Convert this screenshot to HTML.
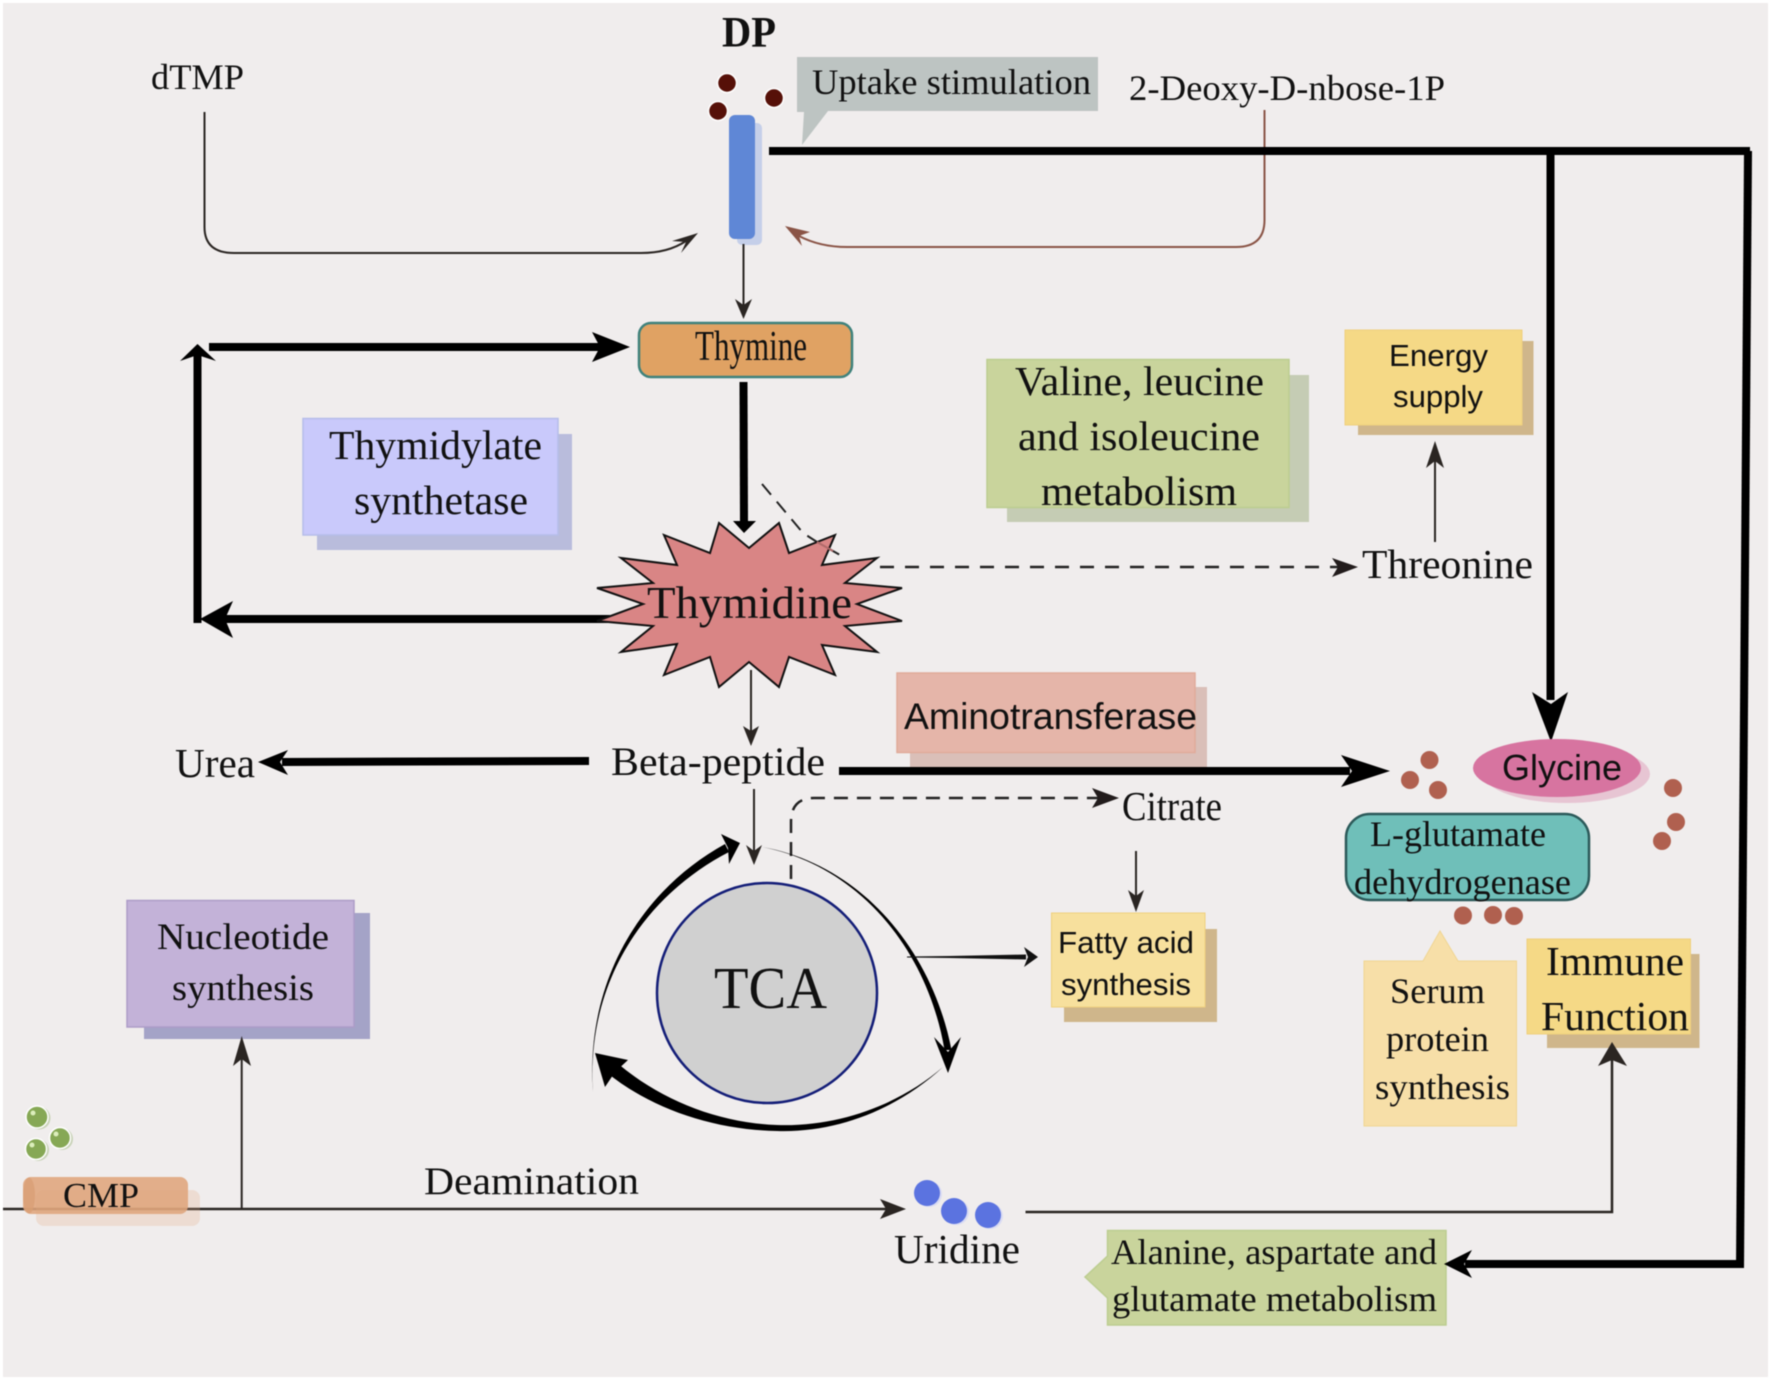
<!DOCTYPE html>
<html><head><meta charset="utf-8"><style>
html,body{margin:0;padding:0;background:#fff}
svg{display:block;filter:blur(.4px)}
text{font-family:"Liberation Serif",serif;fill:#111}
.s{font-family:"Liberation Sans",sans-serif}
</style></head><body>
<svg width="1772" height="1379" viewBox="0 0 1772 1379" xmlns="http://www.w3.org/2000/svg">
<rect width="1772" height="1379" fill="#fff"/>
<rect x="3" y="3" width="1765" height="1374" fill="#f0eded"/>

<!-- shadows + boxes -->
<rect x="317" y="434" width="255" height="116" fill="#b9bcdc"/>
<rect x="303" y="418.500" width="255" height="116.500" fill="#c9c9fb" stroke="#b5bde9" stroke-width="1.500"/>
<rect x="1007" y="375" width="302" height="147" fill="#c5ccb4"/>
<rect x="987" y="359.500" width="302" height="148" fill="#c9d49c" stroke="#bccd90" stroke-width="1.500"/>
<rect x="1358" y="341" width="175.500" height="94" fill="#cfb68b"/>
<rect x="1345" y="330" width="177" height="95" fill="#f5d986" stroke="#efd07e"/>
<rect x="910" y="687" width="297" height="80" fill="#dabfb8"/>
<rect x="897" y="673" width="298" height="79.500" fill="#e5b5a9" stroke="#e0ab9a" stroke-width="1.500"/>
<rect x="1064" y="929" width="153" height="93" fill="#cfb68b"/>
<rect x="1051.500" y="913" width="153.500" height="94" fill="#f7e09d" stroke="#efd07e"/>
<rect x="144" y="913" width="226" height="126" fill="#a4a3c7"/>
<rect x="127" y="900.500" width="227" height="126.500" fill="#c3b2d8" stroke="#ad9cc8" stroke-width="1.500"/>
<rect x="1547" y="954" width="152.500" height="94" fill="#cfb68b"/>
<rect x="1527" y="939" width="163.500" height="95" fill="#f5d986" stroke="#efd07e"/>
<polygon points="1364,961 1423,961 1440,931 1458,961 1516.500,961 1516.500,1126 1364,1126" fill="#f7dfa8" stroke="#f0d592"/>
<polygon points="1107.500,1230.500 1446,1230.500 1446,1325 1107.500,1325 1107.500,1298 1085,1277 1107.500,1256" fill="#c9d49c" stroke="#bccd90" stroke-width="1.500"/>

<!-- uptake callout -->
<polygon points="797,57 1098,57 1098,111 828,111 802,145 804,112 797,112" fill="#bdc4c2"/>

<!-- channel -->
<rect x="737" y="123" width="25" height="122" rx="5" fill="#c5cfe9"/>
<rect x="729" y="115" width="26" height="124" rx="6" fill="#5f87d6"/>
<g fill="#561008" stroke="#fff" stroke-width="1.500">
<circle cx="727" cy="83" r="9.500"/><circle cx="774" cy="98" r="9.500"/><circle cx="718" cy="111" r="9.500"/>
</g>

<!-- thin curved connectors -->
<path d="M204.500,112 V227 Q204.500,253 234,253 H641 Q668,253 686,241" fill="none" stroke="#2a2522" stroke-width="2"/>
<polygon points="698,233 672,241 686,242 681,253" fill="#2a2522"/>
<path d="M1264.500,110 V220 Q1264.500,247 1236,247 H847 Q820,247 799,236" fill="none" stroke="#8a5446" stroke-width="2"/>
<polygon points="785,226 810,232 799,236 802,246" fill="#8a5446"/>

<!-- thick black lines -->
<g fill="none" stroke="#000" stroke-width="8">
<path d="M769,151 H1750"/>
<path d="M1748,151 L1740,1268"/>
<path d="M1744,1264 L1465,1264"/>
<path d="M1550.500,151 V700"/>
<path d="M209,347 H600"/>
<path d="M197.500,623 V355"/>
<path d="M743.500,382 L744,524"/>
<path d="M610,619 H225"/>
<path d="M839,771 H1350"/>
<path d="M589,761 L282,762"/>
</g>
<polygon points="1444,1264 1472,1250 1464,1264 1472,1278" fill="#000"/>
<polygon points="1551,742 1532,692 1551,704 1568,692" fill="#000"/>
<polygon points="630,347 592,332 600,347 592,362" fill="#000"/>
<polygon points="197.500,344 180,361 197.500,355 216,361" fill="#000"/>
<polygon points="200,619 233,601 225,619 233,638" fill="#000"/>
<polygon points="1390,771 1341,755 1352,771 1341,787" fill="#000"/>
<polygon points="258,762 288,750 280,762 288,775" fill="#000"/>

<!-- thymidine dashed -->
<path d="M762,484 L803,533 L817,542 L847,559" fill="none" stroke="#222" stroke-width="2" stroke-dasharray="14,9"/>
<path d="M880,567 H1338" fill="none" stroke="#222" stroke-width="2.500" stroke-dasharray="14,11"/>
<polygon points="1358,567 1332,558 1338,567 1332,577" fill="#221c1c"/>

<!-- star -->
<polygon points="749,548 779,523 789,553 835,535 822,565 877,558 845,583 902,588 857,604 902,621 845,626 877,652 822,645 835,675 789,657 779,687 749,662 719,687 710,657 664,675 677,644 621,652 653,626 597,621 643,604 597,588 653,583 621,558 677,565 664,535 710,553 719,523" fill="#d98585" stroke="#111" stroke-width="2"/>
<path d="M817,542 L833,551" stroke="#b06a6a" stroke-width="2"/>
<polygon points="744,533 733,521 756,521" fill="#000"/>

<!-- thin straight arrows -->
<g fill="none" stroke="#2a2522" stroke-width="2">
<path d="M743.500,244 V310"/>
<path d="M1435,542 V455"/>
<path d="M751,670 V735"/>
<path d="M754,789 V855"/>
<path d="M1136,851 V900"/>
</g>
<g fill="#2a2522">
<polygon points="743.500,319 735,299 743.500,305 752,299"/>
<polygon points="1435,441 1426,468 1435,461 1444,468"/>
<polygon points="751,746 743,726 751,731 759,726"/>
<polygon points="754,865 746,845 754,851 762,845"/>
<polygon points="1136,912 1128,890 1136,896 1144,890"/>
</g>

<!-- citrate dashed -->
<path d="M791,879 V822 Q791,798 814,798 H1098" fill="none" stroke="#222" stroke-width="2.500" stroke-dasharray="14,9"/>
<polygon points="1119,798 1092,788 1098,798 1092,808" fill="#221c1c"/>

<!-- TCA circle -->
<circle cx="767" cy="993" r="110" fill="#d0d0d0" stroke="#141e78" stroke-width="2.500"/>

<!-- cycle arrows -->
<path d="M593,1092 C585,985 638,892 725,844 L729,852 C642,897 586,985 593,1092 Z" fill="#000"/>
<polygon points="740,843 721,834 728,848 729,864" fill="#000"/>
<path d="M762,847 C860,864 932,949 951.500,1050 L944.500,1050 C928,951 860,866 762,847 Z" fill="#000"/>
<polygon points="948,1073 934,1037 948,1052 961,1037" fill="#000"/>
<path d="M943,1067 C900,1107 840,1133 777,1131 C712,1130 650,1108 606,1072 L615,1061 C658,1099 717,1123 777,1125 C840,1127 900,1104 943,1067 Z" fill="#000"/>
<polygon points="595,1053 628,1060 615,1072 605,1087" fill="#000"/>

<!-- TCA to fatty -->
<polygon points="907,956.500 950,956 1026,954.500 1026,959.500 950,958 907,957.500" fill="#111"/>
<polygon points="1038,957 1024,947 1028,957 1024,967" fill="#111"/>

<!-- main line -->
<path d="M3,1209 H895" fill="none" stroke="#2a2522" stroke-width="2.500"/>
<polygon points="906,1209 880,1199 886,1209 880,1219" fill="#2a2522"/>
<path d="M241.700,1209 V1055" fill="none" stroke="#2a2522" stroke-width="2"/>
<polygon points="241.700,1036 233,1066 241.700,1059 251,1066" fill="#2a2522"/>
<path d="M1025.500,1212 H1612 V1060" fill="none" stroke="#2a2522" stroke-width="2.500"/>
<polygon points="1612,1042 1598,1066 1612,1060 1627,1066" fill="#2a2522"/>

<!-- CMP -->
<rect x="36" y="1190" width="164" height="36" rx="8" fill="#e2aa82" opacity=".25"/>
<rect x="23" y="1177" width="165" height="37" rx="8" fill="#dfa57c" opacity=".88"/>
<ellipse cx="29" cy="1195.500" rx="6" ry="18" fill="#d99f75" opacity=".8"/>
<g fill="#c9d3b8"><circle cx="39" cy="1118" r="11.500"/><circle cx="62" cy="1139" r="11"/><circle cx="38" cy="1150" r="11"/></g>
<g fill="#86a855" stroke="#fff" stroke-width="1.500">
<circle cx="37" cy="1117" r="11"/><circle cx="60" cy="1138" r="10.500"/><circle cx="36" cy="1149" r="10.500"/>
</g>
<g fill="#dceebc"><circle cx="33" cy="1113" r="2.500"/><circle cx="56" cy="1134" r="2.500"/><circle cx="32" cy="1145" r="2.500"/></g>

<!-- uridine balls -->
<g fill="#dadcf3"><circle cx="929" cy="1194" r="13"/><circle cx="956" cy="1212" r="13"/><circle cx="990" cy="1216" r="13"/></g>
<g fill="#5b73e0">
<circle cx="927" cy="1193" r="13"/><circle cx="954" cy="1211" r="13"/><circle cx="988" cy="1215" r="13"/>
</g>

<!-- glycine -->
<ellipse cx="1567" cy="774" rx="83" ry="29" fill="#e7c5d3"/>
<ellipse cx="1557" cy="768" rx="84" ry="29" fill="#d774a0"/>
<g fill="#b0604f">
<circle cx="1429.500" cy="760" r="9"/><circle cx="1410" cy="780" r="9"/><circle cx="1438" cy="790" r="9"/>
<circle cx="1673" cy="788" r="9"/><circle cx="1676" cy="822" r="9"/><circle cx="1662" cy="841" r="9"/>
<circle cx="1463" cy="915.500" r="9"/><circle cx="1493" cy="915" r="9"/><circle cx="1514" cy="916" r="9"/>
</g>

<!-- L-glutamate -->
<rect x="1346" y="814" width="243" height="86" rx="24" fill="#6fbfb9" stroke="#2c5a5a" stroke-width="2.500"/>

<!-- thymine -->
<rect x="639" y="323" width="213" height="54" rx="12" fill="#e0a263" stroke="#3f827c" stroke-width="2.500"/>

<!-- text -->
<text x="722" y="46.500" font-size="43" font-weight="bold" textLength="54" lengthAdjust="spacingAndGlyphs">DP</text>
<text x="151" y="89" font-size="36" textLength="93" lengthAdjust="spacingAndGlyphs">dTMP</text>
<text x="812" y="94" font-size="36" textLength="279" lengthAdjust="spacingAndGlyphs">Uptake stimulation</text>
<text x="1129" y="100" font-size="36" textLength="316" lengthAdjust="spacingAndGlyphs">2-Deoxy-D-nbose-1P</text>
<text x="695" y="360" font-size="42" textLength="112" lengthAdjust="spacingAndGlyphs">Thymine</text>
<text x="329" y="459" font-size="41" textLength="213" lengthAdjust="spacingAndGlyphs">Thymidylate</text>
<text x="354" y="514" font-size="41" textLength="174" lengthAdjust="spacingAndGlyphs">synthetase</text>
<text x="647" y="618" font-size="46" textLength="205" lengthAdjust="spacingAndGlyphs">Thymidine</text>
<text x="1015" y="395" font-size="41" textLength="249" lengthAdjust="spacingAndGlyphs">Valine, leucine</text>
<text x="1018" y="450" font-size="41" textLength="242" lengthAdjust="spacingAndGlyphs">and isoleucine</text>
<text x="1041" y="505" font-size="41" textLength="196" lengthAdjust="spacingAndGlyphs">metabolism</text>
<text class="s" x="1389" y="366" font-size="31" textLength="99" lengthAdjust="spacingAndGlyphs">Energy</text>
<text class="s" x="1393" y="407" font-size="31" textLength="90" lengthAdjust="spacingAndGlyphs">supply</text>
<text x="1362" y="578" font-size="41" textLength="171" lengthAdjust="spacingAndGlyphs">Threonine</text>
<text class="s" x="904" y="729" font-size="37" textLength="293" lengthAdjust="spacingAndGlyphs">Aminotransferase</text>
<text x="175" y="777" font-size="41" textLength="80" lengthAdjust="spacingAndGlyphs">Urea</text>
<text x="611" y="775" font-size="40" textLength="214" lengthAdjust="spacingAndGlyphs">Beta-peptide</text>
<text x="1122" y="820" font-size="41" textLength="100" lengthAdjust="spacingAndGlyphs">Citrate</text>
<text class="s" x="1502" y="780" font-size="36" textLength="120" lengthAdjust="spacingAndGlyphs">Glycine</text>
<text x="1370" y="846" font-size="36" textLength="176" lengthAdjust="spacingAndGlyphs">L-glutamate</text>
<text x="1354" y="894" font-size="36" textLength="217" lengthAdjust="spacingAndGlyphs">dehydrogenase</text>
<text class="s" x="1058" y="953" font-size="31" textLength="136" lengthAdjust="spacingAndGlyphs">Fatty acid</text>
<text class="s" x="1061" y="995" font-size="31" textLength="130" lengthAdjust="spacingAndGlyphs">synthesis</text>
<text x="1390" y="1003" font-size="36" textLength="95" lengthAdjust="spacingAndGlyphs">Serum</text>
<text x="1386" y="1051" font-size="36" textLength="103" lengthAdjust="spacingAndGlyphs">protein</text>
<text x="1375" y="1099" font-size="36" textLength="135" lengthAdjust="spacingAndGlyphs">synthesis</text>
<text x="1546" y="975" font-size="41" textLength="138" lengthAdjust="spacingAndGlyphs">Immune</text>
<text x="1541" y="1030" font-size="41" textLength="148" lengthAdjust="spacingAndGlyphs">Function</text>
<text x="894" y="1263" font-size="41" textLength="126" lengthAdjust="spacingAndGlyphs">Uridine</text>
<text x="1111" y="1264" font-size="36" textLength="326" lengthAdjust="spacingAndGlyphs">Alanine, aspartate and</text>
<text x="1112" y="1311" font-size="36" textLength="325" lengthAdjust="spacingAndGlyphs">glutamate metabolism</text>
<text x="157" y="949" font-size="37" textLength="172" lengthAdjust="spacingAndGlyphs">Nucleotide</text>
<text x="172" y="1000" font-size="37" textLength="142" lengthAdjust="spacingAndGlyphs">synthesis</text>
<text x="714" y="1008" font-size="59" textLength="113" lengthAdjust="spacingAndGlyphs">TCA</text>
<text x="63" y="1207" font-size="35" textLength="76" lengthAdjust="spacingAndGlyphs">CMP</text>
<text x="424" y="1194" font-size="39" textLength="215" lengthAdjust="spacingAndGlyphs">Deamination</text>
</svg>
</body></html>
